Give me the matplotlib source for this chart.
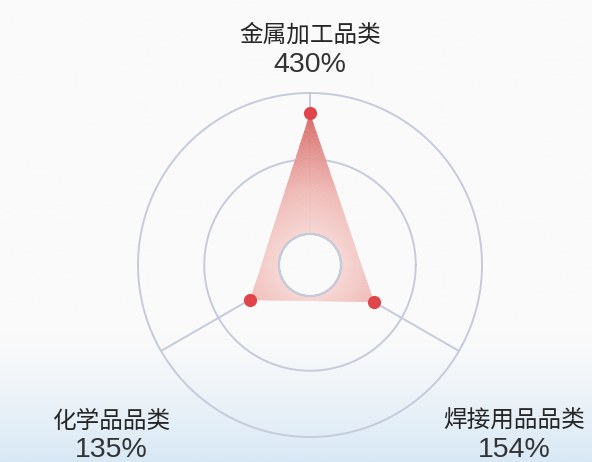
import numpy as np
import matplotlib
matplotlib.use("Agg")
import matplotlib.pyplot as plt
from matplotlib.colors import LinearSegmentedColormap

plt.rcParams['font.family'] = ['Noto Sans CJK SC', 'DejaVu Sans']

categories = ["金属加工品类", "焊接用品品类", "化学品品类"]
values = [430, 154, 135]
value_labels = ["430%", "154%", "135%"]
angles_deg = [90, 330, 210]
grid_values = [0, 265, 500]
r_max = 500
r_origin = -110

W, H, DPI = 592, 462, 100
fig = plt.figure(figsize=(W / DPI, H / DPI), dpi=DPI)

# background gradient
bg = fig.add_axes([0, 0, 1, 1])
bg.set_axis_off()
yy = np.linspace(0, 1, 400)[:, None]
top_c = np.array([0xfa, 0xfa, 0xfa]) / 255
bot_c = np.array([0xd8, 0xe8, 0xf5]) / 255
t = np.clip((yy - 0.72) / 0.28, 0, 1) ** 1.3
img = top_c[None, None, :] * (1 - t[..., None]) + bot_c[None, None, :] * t[..., None]
img = np.repeat(img, 2, axis=1)
bg.imshow(img, aspect='auto', extent=[0, 1, 1, 0])
bg.set_xlim(0, 1)
bg.set_ylim(1, 0)

# polar axes
cx, cy, R = 310, 265, 172
ax = fig.add_axes([(cx - R) / W, (H - cy - R) / H, 2 * R / W, 2 * R / H], projection='polar')
ax.set_facecolor('none')
ax.patch.set_alpha(0)
ax.set_ylim(0, r_max)
ax.set_rorigin(r_origin)
ax.set_xticks([])
ax.set_yticks([])
ax.grid(False)
for s in ax.spines.values():
    s.set_visible(False)

grid_color = '#c6cbdc'
th = np.linspace(0, 2 * np.pi, 600)
for a in angles_deg:
    ax.plot([np.deg2rad(a)] * 2, [0, r_max], color=grid_color, lw=1.4, zorder=1, clip_on=False)
for gv in grid_values[1:]:
    ax.plot(th, np.full_like(th, gv), color=grid_color, lw=1.4, zorder=1, clip_on=False)

theta = np.deg2rad(angles_deg)
tc = np.append(theta, theta[0])
vc = np.append(values, values[0])

poly = ax.fill(tc, vc, facecolor='none', edgecolor='none', zorder=2)[0]
cmap = LinearSegmentedColormap.from_list('g', ['#f5d6d3', '#f0bcb8', '#e3918e', '#d4615f'])
rr = np.linspace(0, 440, 221)
tt = np.linspace(0, 2 * np.pi, 361)
TT, RR = np.meshgrid(tt, rr)
Cval = 0.5 * (rr[:-1] + rr[1:])[:, None] * np.ones((1, len(tt) - 1))
mesh = ax.pcolormesh(TT, RR, Cval, cmap=cmap, vmin=0, vmax=440,
                     shading='flat', alpha=0.94, zorder=2, antialiased=False, edgecolors='none')
mesh.set_clip_path(poly)

# hole circle on top
ax.plot(th, np.zeros_like(th), color=grid_color, lw=1.6, zorder=3, clip_on=False)

ax.plot(theta, values, 'o', color='#e0454b', markersize=9.5, markeredgewidth=0, zorder=4, clip_on=False)

# labels
txt_c = '#333333'
label_pos = [(310, 35, 65), (514, 421, 450), (111, 421, 450)]
for cat, vl, (x, y1, y2) in zip(categories, value_labels, label_pos):
    fig.text(x / W, 1 - y1 / H, cat, ha='center', va='center', fontsize=17, color='#262626',
             fontweight='medium')
    fig.text(x / W, 1 - y2 / H, vl, ha='center', va='center', fontsize=20.5, color=txt_c,
             family=['Liberation Sans', 'DejaVu Sans'])

fig.savefig('out.png', dpi=DPI)
